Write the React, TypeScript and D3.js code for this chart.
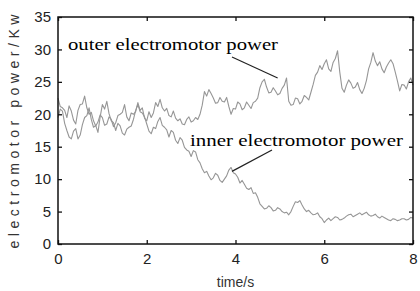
import * as d3 from "d3";
import React, { useRef, useEffect } from "react";

// time axis, 0.05 s steps
const times: number[] = d3.range(0, 161).map((i) => i / 20);

const outerPower: number[] = [
  22.5, 21.2, 21, 20.6, 19.5, 21.3, 20.5, 19.1, 18.5, 20.6,
  21.5, 21.6, 22.8, 21.0, 20, 20.3, 19, 18.2, 18.8, 19.9,
  19.5, 18.3, 18.5, 19.6, 19.2, 18.1, 18.7, 19.8, 20, 20.3,
  21.5, 19.6, 19, 20.2, 20, 20.4, 21.8, 20.6, 21, 19.4,
  19, 20.4, 19.5, 20.2, 21.8, 21.2, 22.3, 21.0, 20.5, 20.9,
  19.8, 19.6, 20.5, 19.4, 19, 19.3, 18.5, 18.4, 19.2, 19.6,
  18.8, 19.0, 19.5, 19.2, 20, 21.4, 23.5, 22.8, 23.8, 23.2,
  22.5, 21.7, 21.8, 22.6, 22, 21.9, 22.6, 21.2, 20, 20.9,
  20.8, 21.9, 21.6, 20.7, 21, 21.9, 21.4, 20.9, 21.8, 22.0,
  22.5, 24.1, 25, 25.4, 24.2, 23.3, 23.4, 24.1, 23.6, 23.0,
  23.2, 24.0, 24.5, 25.6, 22, 21.4, 21.5, 22.5, 22.4, 21.6,
  22, 22.9, 22.6, 22.2, 23.4, 24.6, 26, 26.5, 27.5, 26.9,
  27.8, 28.4, 27, 26.6, 28, 28.6, 29.8, 26.5, 24, 23.4,
  24.5, 25.3, 24.8, 24.0, 24.2, 24.9, 23.8, 23.2, 24, 25.2,
  27, 28.0, 29.5, 28.2, 27.5, 28.1, 27, 26.4, 27.3, 27.9,
  28.4, 27.8, 26.5, 25.1, 23.6, 24.6, 24.5, 23.9, 25, 25.6,
  24.5,
];

const innerPower: number[] = [
  19.5, 20.8, 20.5, 18.6, 17.5, 16.5, 16.2, 17.4, 17.8, 16.2,
  16.8, 18.4, 19.5, 19.8, 21, 19.2, 18, 18.3, 17.2, 19.6,
  21.5, 20.8, 22, 20.1, 19, 18.7, 17.5, 18.6, 18.2, 17.1,
  16.8, 17.7, 18, 18.2, 19.2, 20.6, 21.5, 20.4, 20.2, 19.6,
  18.5, 17.4, 17, 18.0, 17.8, 18.9, 19.5, 18.3, 18, 17.6,
  16.5, 17.5, 17.2, 16.0, 15.5, 16.4, 16, 14.9, 14.5, 14.3,
  13.5, 14.4, 14.2, 13.0, 12.5, 11.6, 11, 11.2, 10.5, 9.9,
  10.2, 10.9, 10.6, 9.8, 9.5, 10.0, 10.5, 11.4, 11.8, 11.0,
  10.8, 10.3, 9.4, 9.8, 9.2, 8.6, 8.4, 8.7, 7.8, 7.9,
  7.2, 6.2, 5.8, 5.4, 5.5, 5.9, 5.6, 5.1, 5.2, 5.6,
  5.4, 5.0, 4.8, 4.9, 4.5, 5.0, 5.8, 6.5, 6.4, 6.7,
  6, 5.4, 5, 5.2, 4.8, 4.5, 4.6, 4.8, 4.2, 3.9,
  3.3, 3.7, 4, 3.6, 3.9, 4.2, 4.1, 3.7, 3.8, 4.0,
  4.3, 4.5, 4.6, 4.2, 4.4, 4.6, 4.8, 4.5, 4.7, 4.9,
  4.5, 4.3, 4.4, 4.6, 4.2, 4.0, 4.3, 4.1, 3.9, 3.7,
  3.6, 3.9, 3.8, 3.6, 3.7, 3.9, 3.9, 3.7, 3.8, 4.1,
  4,
];

const xTicks = [0, 2, 4, 6, 8];
const yTicks = [0, 5, 10, 15, 20, 25, 30, 35];

function PowerChart() {
  const ref = useRef<SVGSVGElement>(null);

  useEffect(() => {
    const svg = d3.select(ref.current);
    svg.selectAll("*").remove();

    const left = 58, right = 413, top = 17, bottom = 244;

    const x = d3.scaleLinear().domain([0, 8]).range([left, right]);
    const y = d3.scaleLinear().domain([0, 35]).range([bottom, top]);

    const line = d3.line<number>()
      .x((d, i) => x(times[i]))
      .y((d) => y(d));

    // data lines
    [outerPower, innerPower].forEach((series) => {
      svg.append("path")
        .datum(series)
        .attr("d", line)
        .attr("fill", "none")
        .attr("stroke", "#969696")
        .attr("stroke-width", 1.1)
        .attr("stroke-linejoin", "round");
    });

    // axes, ticks inward on all four sides
    const axisFont = "'Liberation Sans', Arial, sans-serif";
    svg.append("g")
      .attr("transform", `translate(0,${bottom})`)
      .call(d3.axisBottom(x).tickValues(xTicks).tickSize(-4).tickPadding(9))
      .call((g) => g.select(".domain").remove());
    svg.append("g")
      .attr("transform", `translate(0,${top})`)
      .call(d3.axisTop(x).tickValues(xTicks).tickSize(-4).tickFormat(() => ""))
      .call((g) => g.select(".domain").remove());
    svg.append("g")
      .attr("transform", `translate(${left},0)`)
      .call(d3.axisLeft(y).tickValues(yTicks).tickSize(-4).tickPadding(7))
      .call((g) => g.select(".domain").remove());
    svg.append("g")
      .attr("transform", `translate(${right},0)`)
      .call(d3.axisRight(y).tickValues(yTicks).tickSize(-4).tickFormat(() => ""))
      .call((g) => g.select(".domain").remove());

    svg.selectAll(".tick line").attr("stroke", "#111").attr("stroke-width", 1.3);
    svg.selectAll(".tick text")
      .attr("font-family", axisFont)
      .attr("font-size", 15)
      .attr("fill", "#222");

    svg.append("rect")
      .attr("x", left).attr("y", top)
      .attr("width", right - left).attr("height", bottom - top)
      .attr("fill", "none")
      .attr("stroke", "#111")
      .attr("stroke-width", 1.5);

    // axis titles
    svg.append("text")
      .attr("x", x(4)).attr("y", 287)
      .attr("text-anchor", "middle")
      .attr("font-family", axisFont)
      .attr("font-size", 14)
      .attr("fill", "#333")
      .text("time/s");

    svg.append("text")
      .attr("transform", `translate(19,${(top + bottom) / 2 + 1}) rotate(-90)`)
      .attr("text-anchor", "middle")
      .attr("font-family", axisFont)
      .attr("font-size", 14)
      .attr("fill", "#333")
      .attr("textLength", 234)
      .attr("lengthAdjust", "spacing")
      .text("electromotor power/Kw");

    // annotations
    const serif = "'Liberation Serif', 'Times New Roman', serif";
    svg.append("text")
      .attr("x", 68).attr("y", 50)
      .attr("font-family", serif)
      .attr("font-size", 17)
      .attr("fill", "#000")
      .attr("textLength", 210)
      .attr("lengthAdjust", "spacingAndGlyphs")
      .text("outer electromotor power");
    svg.append("line")
      .attr("x1", 232).attr("y1", 57)
      .attr("x2", x(4.95)).attr("y2", y(25.6))
      .attr("stroke", "#222").attr("stroke-width", 1.2);

    svg.append("text")
      .attr("x", 190).attr("y", 146)
      .attr("font-family", serif)
      .attr("font-size", 17)
      .attr("fill", "#000")
      .attr("textLength", 213)
      .attr("lengthAdjust", "spacingAndGlyphs")
      .text("inner electromotor power");
    svg.append("line")
      .attr("x1", 272).attr("y1", 150)
      .attr("x2", x(3.92)).attr("y2", y(11.2))
      .attr("stroke", "#222").attr("stroke-width", 1.2);
  }, []);

  return (
    <svg
      ref={ref}
      width={420}
      height={291}
      style={{ position: "absolute", left: 0, top: 0, background: "#fff" }}
    />
  );
}

export default function App() {
  return <PowerChart />;
}
